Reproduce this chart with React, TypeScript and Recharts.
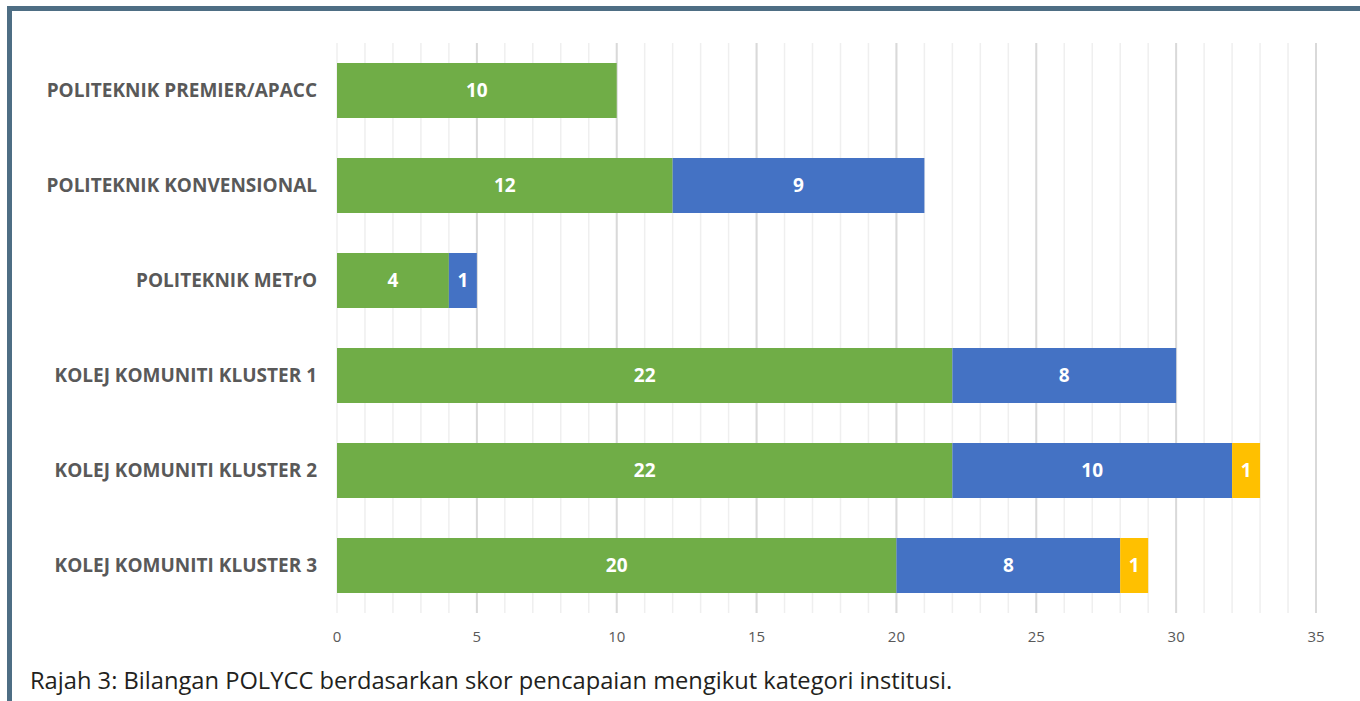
import React from "react";
import { BarChart, Bar, XAxis, YAxis, CartesianGrid, LabelList } from "recharts";

const categories = [
  "POLITEKNIK PREMIER/APACC",
  "POLITEKNIK KONVENSIONAL",
  "POLITEKNIK METrO",
  "KOLEJ KOMUNITI KLUSTER 1",
  "KOLEJ KOMUNITI KLUSTER 2",
  "KOLEJ KOMUNITI KLUSTER 3",
];
const seriesGreen = [10, 12, 4, 22, 22, 20];
const seriesBlue = [null, 9, 1, 8, 10, 8];
const seriesYellow = [null, null, null, null, 1, 1];
const xTicks = [0, 1, 2, 3, 4, 5, 6, 7, 8, 9, 10, 11, 12, 13, 14, 15, 16, 17, 18, 19, 20, 21, 22, 23, 24, 25, 26, 27, 28, 29, 30, 31, 32, 33, 34, 35];
const majorTicks = [5, 10, 15, 20, 25, 30, 35];
const bandTicks = [0, 1, 2, 3, 4, 5, 6];
const caption = "Rajah 3: Bilangan POLYCC berdasarkan skor pencapaian mengikut kategori institusi.";

const data = categories.map((name, i) => ({
  name,
  a: seriesGreen[i],
  b: seriesBlue[i],
  c: seriesYellow[i],
}));

const FONT = "'Open Sans', 'DejaVu Sans', sans-serif";

export default function App() {
  return (
    <div style={{ position: "absolute", left: 0, top: 0, width: 1360, height: 701, overflow: "hidden", background: "#fff", fontFamily: FONT }}>
      <div style={{ position: "absolute", left: 7, top: 6, right: 0, bottom: 0, borderTop: "5px solid #4e6e84", borderLeft: "5px solid #4e6e84" }} />
      <div style={{ position: "absolute", left: 0, top: 0 }}>
        <BarChart
          width={1360}
          height={701}
          data={data}
          layout="vertical"
          margin={{ top: 43, right: 44, bottom: 58, left: 0 }}
          barCategoryGap={0}
        >
          <CartesianGrid yAxisId="cat" horizontal={false} vertical={true} stroke="#efefef" strokeWidth={1.5} />
          <CartesianGrid yAxisId="cat" horizontal={false} vertical={true} verticalValues={majorTicks} stroke="#d9d9d9" strokeWidth={2} />
          <XAxis
            type="number"
            domain={[0, 35]}
            ticks={xTicks}
            interval={0}
            tickFormatter={(v: number) => (v % 5 === 0 ? String(v) : "")}
            axisLine={false}
            tickLine={false}
            tickMargin={12}
            height={30}
            tick={{ fill: "#595959", fontSize: 15, fontFamily: FONT }}
          />
          <YAxis
            yAxisId="frame"
            type="number"
            domain={[0, 6]}
            ticks={bandTicks}
            reversed
            width={0}
            tick={false}
            tickSize={7}
            tickLine={{ stroke: "#d9d9d9", strokeWidth: 1.5 }}
            axisLine={{ stroke: "#d9d9d9", strokeWidth: 2 }}
          />
          <YAxis
            yAxisId="cat"
            type="category"
            dataKey="name"
            width={337}
            axisLine={false}
            tickLine={false}
            tickMargin={14}
            tick={{ fill: "#595959", fontSize: 19, fontWeight: 700, fontFamily: FONT }}
          />
          <Bar dataKey="a" name="A" stackId="s" yAxisId="cat" fill="#70ad47" barSize={55} isAnimationActive={false}>
            <LabelList dataKey="a" position="center" fill="#ffffff" fontSize={19} fontWeight={700} fontFamily={FONT} />
          </Bar>
          <Bar dataKey="b" name="B" stackId="s" yAxisId="cat" fill="#4472c4" barSize={55} isAnimationActive={false}>
            <LabelList dataKey="b" position="center" fill="#ffffff" fontSize={19} fontWeight={700} fontFamily={FONT} />
          </Bar>
          <Bar dataKey="c" name="C" stackId="s" yAxisId="cat" fill="#ffc000" barSize={55} isAnimationActive={false}>
            <LabelList dataKey="c" position="center" fill="#ffffff" fontSize={19} fontWeight={700} fontFamily={FONT} />
          </Bar>
        </BarChart>
      </div>
      <div style={{ position: "absolute", left: 30, top: 668, fontSize: 23.7, lineHeight: "24px", color: "#231f20", whiteSpace: "nowrap", fontFamily: FONT }}>
        {caption}
      </div>
    </div>
  );
}
